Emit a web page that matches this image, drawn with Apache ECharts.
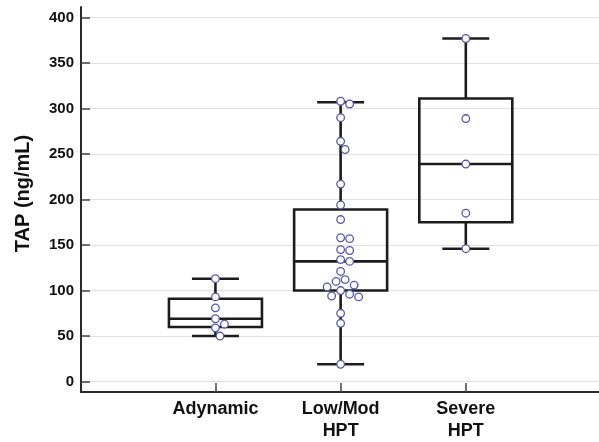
<!DOCTYPE html>
<html>
<head>
<meta charset="utf-8">
<script src="https://cdn.jsdelivr.net/npm/echarts@6/dist/echarts.min.js"></script>
<style>
  html, body { margin: 0; padding: 0; background: #fff; }
  #chart { width: 599px; height: 442px; }
</style>
</head>
<body>
<div id="chart"></div>
<script>
// TAP por grupo: caixas + pontos individuais

const categories = ['Adynamic', 'Low/Mod\nHPT', 'Severe\nHPT'];
const yTicks = [0, 50, 100, 150, 200, 250, 300, 350, 400];

// [min, q1, median, q3, max]
const boxAdynamic = [50, 60, 69, 91, 113];
const boxLowMod = [19, 100, 132, 189, 307];
const boxSevere = [146, 175, 239, 311, 377];

const pointsAdynamic = [113, 93, 81, 69, 63, 59, 50];
const pointsLowMod = [308, 305, 290, 264, 255, 217, 194, 178, 158, 157, 145, 144,
	134, 132, 121, 112, 110, 106, 104, 100, 96, 94, 93, 75, 64, 19];
const pointsSevere = [377, 289, 239, 185, 146];

const boxes = [boxAdynamic, boxLowMod, boxSevere];
const groups = [pointsAdynamic, pointsLowMod, pointsSevere];

const boxData = boxes.map((b, i) => [i].concat(b));
const pointData = [];
groups.forEach((g, i) => g.forEach(v => pointData.push([i, v])));

const chart = echarts.init(document.getElementById('chart'));

const lineColor = '#1c1c1c';
const dotColor = '#5656b4';
const font = '"Liberation Sans", Arial, sans-serif';

// beeswarm simples, em pixels
let swarm = null;
const buildSwarm = (api) => {
	const placed = [];
	const out = [];
	const d = 8.6;
	pointData.forEach(p => {
		const c = api.coord([p[0], p[1]]);
		let best = 0;
		for (let k = 0; k < 40; k++) {
			const off = (k % 2 === 1 ? 1 : -1) * Math.ceil(k / 2) * 4.5;
			const x = c[0] + off;
			const hit = placed.some(q => q.g === p[0] && Math.hypot(q.x - x, q.y - c[1]) < d);
			if (!hit) { best = off; break; }
		}
		placed.push({ g: p[0], x: c[0] + best, y: c[1] });
		out.push([c[0] + best, c[1]]);
	});
	return out;
};

const option = {
	animation: false,
	grid: { left: 81, right: 0, top: 7, bottom: 49 },
	xAxis: {
		type: 'value',
		min: -1.074,
		max: 3.064,
		axisLine: { onZero: false, lineStyle: { color: '#2a2a2a', width: 2 } },
		axisTick: {
			show: true, inside: true, length: 9,
			customValues: [0, 1, 2],
			lineStyle: { color: '#444', width: 1.5 }
		},
		axisLabel: {
			customValues: [0, 1, 2],
			formatter: v => categories[Math.round(v)],
			fontFamily: font, fontWeight: 'bold', fontSize: 18,
			lineHeight: 22, color: '#111', margin: 6
		},
		splitLine: { show: false }
	},
	yAxis: {
		type: 'value',
		min: -11.5,
		max: 411.6,
		name: 'TAP (ng/mL)',
		nameLocation: 'middle',
		nameGap: 48,
		nameTextStyle: {
			fontFamily: font, fontWeight: 'bold', fontSize: 20, color: '#111',
			padding: [0, 0, 0, 12]
		},
		axisLine: { show: true, onZero: false, lineStyle: { color: '#2a2a2a', width: 2 } },
		axisTick: {
			show: true, inside: true, length: 9,
			customValues: yTicks,
			lineStyle: { color: '#444', width: 1.5 }
		},
		axisLabel: {
			customValues: yTicks,
			fontFamily: font, fontWeight: 'bold', fontSize: 15,
			color: '#111', margin: 7
		},
		splitLine: { show: true, lineStyle: { color: '#e2e2e2', width: 1 } }
	},
	series: [
		{
			type: 'custom',
			data: boxData,
			z: 2,
			renderItem: (params, api) => {
				const x = api.value(0);
				const pMin = api.coord([x, api.value(1)]);
				const pQ1 = api.coord([x, api.value(2)]);
				const pMed = api.coord([x, api.value(3)]);
				const pQ3 = api.coord([x, api.value(4)]);
				const pMax = api.coord([x, api.value(5)]);
				const hw = 46.5, cw = 23.5;
				const cx = pMed[0];
				const st = { stroke: lineColor, lineWidth: 2.6, fill: null };
				return {
					type: 'group',
					children: [
						{ type: 'line', shape: { x1: cx, y1: pQ3[1], x2: cx, y2: pMax[1] }, style: st },
						{ type: 'line', shape: { x1: cx, y1: pQ1[1], x2: cx, y2: pMin[1] }, style: st },
						{ type: 'line', shape: { x1: cx - cw, y1: pMax[1], x2: cx + cw, y2: pMax[1] }, style: st },
						{ type: 'line', shape: { x1: cx - cw, y1: pMin[1], x2: cx + cw, y2: pMin[1] }, style: st },
						{ type: 'rect', shape: { x: cx - hw, y: pQ3[1], width: hw * 2, height: pQ1[1] - pQ3[1] }, style: st },
						{ type: 'line', shape: { x1: cx - hw, y1: pMed[1], x2: cx + hw, y2: pMed[1] }, style: st }
					]
				};
			}
		},
		{
			type: 'custom',
			data: pointData,
			z: 3,
			renderItem: (params, api) => {
				if (params.dataIndex === 0 || !swarm) swarm = buildSwarm(api);
				const c = swarm[params.dataIndex];
				return {
					type: 'circle',
					shape: { cx: c[0], cy: c[1], r: 3.8 },
					style: { fill: '#fff', stroke: dotColor, lineWidth: 1.3 }
				};
			}
		}
	]
};

chart.setOption(option);
</script>
</body>
</html>
